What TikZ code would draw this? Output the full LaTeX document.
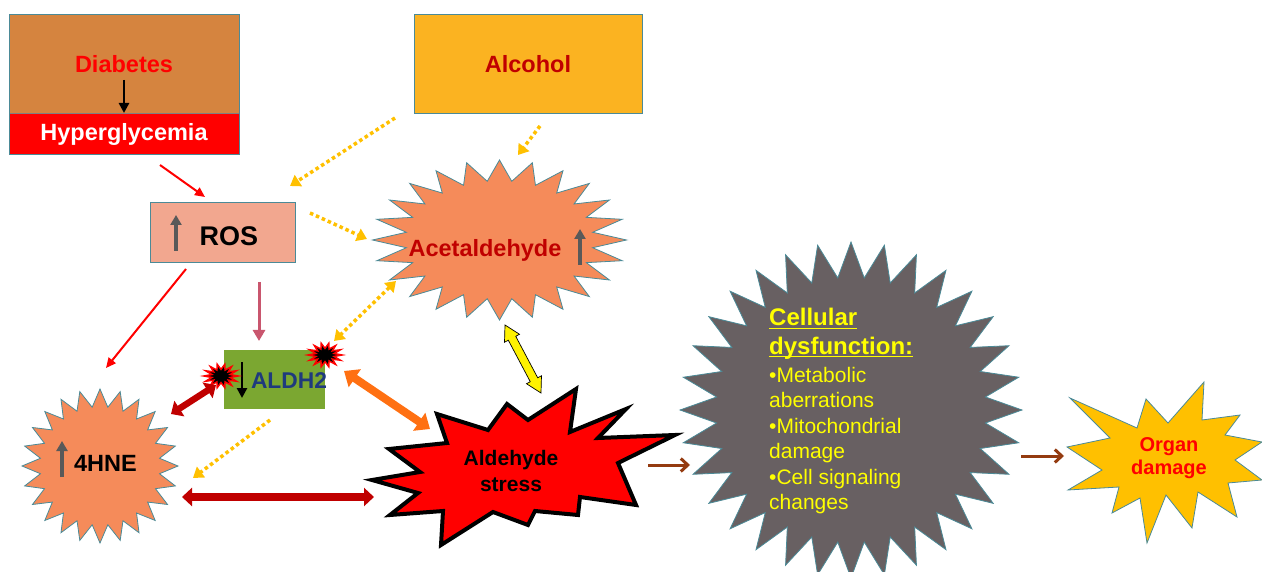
\documentclass[tikz,border=0pt]{standalone}
\usepackage{fontspec}
\setmainfont{Liberation Sans}
\usetikzlibrary{arrows.meta,calc}
\definecolor{brownbox}{HTML}{D5843F}
\definecolor{tealb}{HTML}{4B8A97}
\definecolor{alcfill}{HTML}{FBB321}
\definecolor{rosfill}{HTML}{F2A78F}
\definecolor{starfill}{HTML}{F58B5A}
\definecolor{aldhfill}{HTML}{7BA731}
\definecolor{aldhtext}{HTML}{1F3A7D}
\definecolor{greystar}{HTML}{686062}
\definecolor{organfill}{HTML}{FFC000}
\definecolor{darkred}{HTML}{C00000}
\definecolor{orangearr}{HTML}{FF7012}
\definecolor{dotyel}{HTML}{FFC000}
\definecolor{brownarr}{HTML}{943B10}
\definecolor{greyarr}{HTML}{595959}
\definecolor{pinkarr}{HTML}{C9566E}
\definecolor{celltext}{HTML}{FFFF00}
\newcommand\mystar[7]{%
  \pgfmathtruncatemacro\nn{2*#5-1}%
  \draw[#7] ({#1+#3},{#2}) \foreach \i [evaluate=\i as \rr using {ifthenelse(mod(\i,2)==0,1,#6)}] in {1,...,\nn} { -- ({#1+#3*\rr*cos(\i*180/#5)},{#2+#4*\rr*sin(\i*180/#5)}) } -- cycle;}
\newcommand\myul[1]{\setbox0\hbox{#1}\rlap{\rule[-3.4pt]{\wd0}{1.8pt}}\box0}
\tikzset{
  boxline/.style={draw=tealb, line width=0.8pt},
  lbl/.style={font=\bfseries\fontsize{23.5}{27}\selectfont, inner sep=0pt},
  dotarrow/.style={draw=dotyel, line width=3.5pt, dash pattern=on 3.5pt off 3pt, -{Triangle[length=10pt,width=13pt]}},
  dotdouble/.style={draw=dotyel, line width=3.5pt, dash pattern=on 3.5pt off 3pt, {Triangle[length=10pt,width=13pt]}-{Triangle[length=10pt,width=13pt]}},
  thinred/.style={draw=red, line width=2pt, -{Triangle[length=10pt,width=9pt]}},
  greyup/.style={draw=greyarr, line width=3.5pt, -{Triangle[length=10pt,width=11pt]}},
  blackdown/.style={draw=black, line width=2.5pt, -{Triangle[length=10pt,width=10pt]}},
  thickdouble/.style={line width=#1, {Triangle[length=10pt,width=18pt]}-{Triangle[length=10pt,width=18pt]}},
  brownarrow/.style={draw=brownarr, line width=3pt, -{Straight Barb[length=7pt,width=13pt,line width=3pt]}},
  celltitle/.style={font=\bfseries\fontsize{24}{28}\selectfont, text=celltext, inner sep=0pt, anchor=base west},
  cellbody/.style={font=\fontsize{21}{25}\selectfont, text=celltext, inner sep=0pt, anchor=base west},
}
\begin{document}
\begin{tikzpicture}[x=1pt,y=-1pt]
\useasboundingbox (0,0) rectangle (1262,572);
% Diabetes box
\fill[brownbox] (9,14) rectangle (239,113);
\fill[red] (9,113) rectangle (239,154);
\draw[gray, line width=0.6pt] (9,113) -- (239,113);
\draw[boxline] (9,14) rectangle (239,154);
\node[lbl, text=red] (diab) at (124,64) {Diabetes};
\node[lbl, text=white] (hyper) at (124,134) {Hyperglycemia};
\coordinate (dA) at (124,80); \coordinate (dB) at (124,113);
\draw[blackdown] (dA) -- (dB);
% Alcohol
\draw[boxline, fill=alcfill] (414,14) rectangle (642,113);
\node[lbl, text=darkred] (alc) at (528,64) {Alcohol};
% ROS
\draw[boxline, fill=rosfill] (150,202) rectangle (295,262);
\node[lbl, font=\bfseries\fontsize{27}{30}\selectfont] (ros) at (229,236) {ROS};
\coordinate (rA) at (176,251); \coordinate (rB) at (176,215);
\draw[greyup] (rA) -- (rB);
% Acetaldehyde star
\mystar{499.5}{240}{127}{80}{24}{0.74}{draw=tealb, line width=0.8pt, fill=starfill}
\node[lbl, text=darkred] (acet) at (485,250) {Acetaldehyde};
\coordinate (aA) at (580,265); \coordinate (aB) at (580,229);
\draw[greyup] (aA) -- (aB);
% 4HNE star
\mystar{100}{466}{78}{77}{24}{0.77}{draw=tealb, line width=0.8pt, fill=starfill}
\node[lbl] (hne) at (105.5,463) {4HNE};
\coordinate (hA) at (62,477); \coordinate (hB) at (62,441);
\draw[greyup] (hA) -- (hB);
% Cellular dysfunction star
\mystar{851}{410}{171}{168}{32}{0.79}{draw=tealb, line width=0.8pt, fill=greystar}
\node[celltitle] (cd1) at (769,326) {\myul{Cellular}};
\node[celltitle] (cd2) at (769,354) {\myul{dysfunction:}};
\node[cellbody] (cd3) at (769,382) {•Metabolic};
\node[cellbody] (cd4) at (769,407.5) {aberrations};
\node[cellbody] (cd5) at (769,433) {•Mitochondrial};
\node[cellbody] (cd6) at (769,458.5) {damage};
\node[cellbody] (cd7) at (769,484) {•Cell signaling};
\node[cellbody] (cd8) at (769,509.5) {changes};
% Aldehyde stress
\draw[black, line width=4pt, fill=red, line join=miter]
  (372,480) -- (420,472) -- (389,449) -- (447,443) -- (437,414) -- (488,430)
  -- (507,404) -- (528,420) -- (576,389) -- (570,432) -- (626,409) -- (598,438)
  -- (675,435) -- (618,463) -- (636,505) -- (580,497) -- (578,515) -- (535,511)
  -- (528,525) -- (493,512) -- (441,545) -- (443,511) -- (390,515) -- (418,493) -- cycle;
\node[lbl, font=\bfseries\fontsize{21}{25.5}\selectfont, align=center] (ald) at (511,471) {Aldehyde\\stress};
% Organ damage
\draw[draw=tealb, line width=0.8pt, fill=organfill]
  (1070,398) -- (1137,428) -- (1146,399) -- (1168,423) -- (1204,382) -- (1202,420)
  -- (1240,415) -- (1225,435) -- (1262,442) -- (1235,460) -- (1262,480) -- (1228,483)
  -- (1237,517) -- (1198,492) -- (1192,528) -- (1166,495) -- (1147,543) -- (1140,498)
  -- (1112,513) -- (1119,487) -- (1068,490) -- (1102,470) -- (1067,447) -- (1110,438) -- cycle;
\node[lbl, text=red, font=\bfseries\fontsize{20}{23.5}\selectfont, align=center] (organ) at (1169,458) {Organ\\damage};
% ALDH2 box
\fill[aldhfill] (224,350) rectangle (325,409);
\node[lbl, text=aldhtext, font=\bfseries\fontsize{22.8}{26}\selectfont] (aldh) at (289,381) {ALDH2};
\coordinate (lA) at (242,362); \coordinate (lB) at (242,398);
\draw[blackdown] (lA) -- (lB);
\mystar{221}{376}{17}{12}{14}{0.55}{draw=red, line width=1.5pt, fill=black}
\mystar{325}{355}{17}{12}{14}{0.55}{draw=red, line width=1.5pt, fill=black}
% connectors
\coordinate (c1a) at (160,165); \coordinate (c1b) at (205,197);
\draw[thinred] (c1a) -- (c1b);
\coordinate (c2a) at (186,269); \coordinate (c2b) at (106,368);
\draw[thinred] (c2a) -- (c2b);
\coordinate (c3a) at (259,282); \coordinate (c3b) at (259,341);
\draw[draw=pinkarr, line width=3pt, -{Triangle[length=11pt,width=12pt]}] (c3a) -- (c3b);
\coordinate (d1a) at (395,118); \coordinate (d1b) at (290,186);
\draw[dotarrow] (d1a) -- (d1b);
\coordinate (d2a) at (540,126); \coordinate (d2b) at (518,155);
\draw[dotarrow] (d2a) -- (d2b);
\coordinate (d3a) at (310,213); \coordinate (d3b) at (367,239);
\draw[dotarrow] (d3a) -- (d3b);
\coordinate (d4a) at (396,281); \coordinate (d4b) at (334,341);
\draw[dotdouble] (d4a) -- (d4b);
\coordinate (d5a) at (270,420); \coordinate (d5b) at (193,478);
\draw[dotarrow] (d5a) -- (d5b);
\coordinate (t1a) at (171,414); \coordinate (t1b) at (216,385);
\draw[darkred, thickdouble=6.5pt] (t1a) -- (t1b);
\coordinate (t2a) at (344,371); \coordinate (t2b) at (430,429);
\draw[orangearr, line width=8pt, {Triangle[length=13pt,width=21pt]}-{Triangle[length=13pt,width=21pt]}] (t2a) -- (t2b);
\coordinate (t3a) at (182,497); \coordinate (t3b) at (374,497);
\draw[darkred, line width=8pt, {Triangle[length=10pt,width=18pt]}-{Triangle[length=10pt,width=18pt]}] (t3a) -- (t3b);
% yellow block double arrow
\coordinate (ya) at (505,325); \coordinate (yb) at (541,393);
\draw[black, line width=0.7pt, fill=yellow]
  (ya) -- ($(ya)!15pt!(yb)!8.5pt!90:(yb)$) -- ($(ya)!15pt!(yb)!4.2pt!90:(yb)$)
  -- ($(yb)!15pt!(ya)!4.2pt!-90:(ya)$) -- ($(yb)!15pt!(ya)!8.5pt!-90:(ya)$)
  -- (yb) -- ($(yb)!15pt!(ya)!8.5pt!90:(ya)$) -- ($(yb)!15pt!(ya)!4.2pt!90:(ya)$)
  -- ($(ya)!15pt!(yb)!4.2pt!-90:(yb)$) -- ($(ya)!15pt!(yb)!8.5pt!-90:(yb)$) -- cycle;
% brown arrows
\coordinate (b1a) at (648,465); \coordinate (b1b) at (690,465);
\draw[brownarrow] (b1a) -- (b1b);
\coordinate (b2a) at (1021,456); \coordinate (b2b) at (1064,456);
\draw[brownarrow] (b2a) -- (b2b);
\end{tikzpicture}
\end{document}
